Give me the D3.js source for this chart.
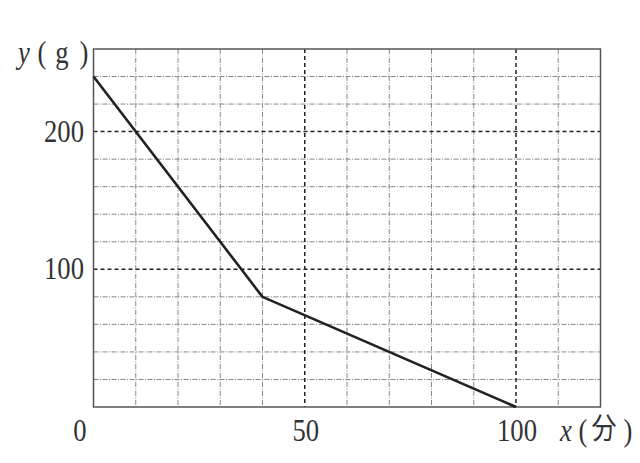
<!DOCTYPE html>
<html><head><meta charset="utf-8">
<script src="https://cdn.jsdelivr.net/npm/d3@7"></script>
<style>body{margin:0;background:#fff}</style>
</head><body>
<svg id="c" width="640" height="463"></svg>
<script>
const xs = [0, 40, 100];
const ys = [240, 80, 0];
const xTicks = [0, 50, 100];
const yTicks = [100, 200];
const xDomain = [0, 120];
const yDomain = [0, 260];
const xGridStep = 10;
const yGridStep = 20;
const xLabel = "x";
const xUnit = ["(", "分", ")"];
const yLabel = "y";
const yUnit = ["(", "g", ")"];

const svg = d3.select("#c");
const x = d3.scaleLinear().domain(xDomain).range([93.5, 600.5]);
const y = d3.scaleLinear().domain(yDomain).range([407, 49]);

const xg = d3.range(xDomain[0] + xGridStep, xDomain[1], xGridStep);
const yg = d3.range(yDomain[0] + yGridStep, yDomain[1], yGridStep);
const serif = "'Liberation Serif','DejaVu Serif',serif";
const FS = 31, SX = 0.86;

// minor grid
svg.append("g").selectAll("line").data(xg.filter(v => !xTicks.includes(v))).join("line")
  .attr("x1", d => x(d)).attr("x2", d => x(d)).attr("y1", y(yDomain[1])).attr("y2", y(0))
  .attr("stroke", "#888").attr("stroke-width", 1).attr("stroke-dasharray", "5,1.5,1,1.5");
svg.append("g").selectAll("line").data(yg.filter(v => !yTicks.includes(v))).join("line")
  .attr("y1", d => y(d)).attr("y2", d => y(d)).attr("x1", x(0)).attr("x2", x(xDomain[1]))
  .attr("stroke", "#888").attr("stroke-width", 1).attr("stroke-dasharray", "5,1.5,1,1.5");
// major grid
svg.append("g").selectAll("line").data(xTicks.filter(v => v > 0)).join("line")
  .attr("x1", d => x(d)).attr("x2", d => x(d)).attr("y1", y(yDomain[1])).attr("y2", y(0))
  .attr("stroke", "#222").attr("stroke-width", 1.5).attr("stroke-dasharray", "4,3");
svg.append("g").selectAll("line").data(yTicks).join("line")
  .attr("y1", d => y(d)).attr("y2", d => y(d)).attr("x1", x(0)).attr("x2", x(xDomain[1]))
  .attr("stroke", "#222").attr("stroke-width", 1.5).attr("stroke-dasharray", "4,3");
// border
svg.append("rect").attr("x", x(0)).attr("y", y(yDomain[1]))
  .attr("width", x(xDomain[1]) - x(0)).attr("height", y(0) - y(yDomain[1]))
  .attr("fill", "none").attr("stroke", "#555").attr("stroke-width", 1.5);

// line
svg.append("path").datum(xs.map((v, i) => [v, ys[i]]))
  .attr("d", d3.line().x(d => x(d[0])).y(d => y(d[1])))
  .attr("fill", "none").attr("stroke", "#222").attr("stroke-width", 2.6).attr("stroke-linejoin", "round");

function txt(px, py, s, anchor, opts = {}) {
  return svg.append("text")
    .attr("transform", `translate(${px},${py}) scale(${SX},1)`)
    .attr("text-anchor", anchor).attr("font-family", opts.family || serif)
    .attr("font-size", opts.size || FS).attr("font-style", opts.style || "normal")
    .attr("fill", "#333").text(s);
}

// tick labels
xTicks.forEach(d => txt(d === 0 ? 80 : x(d) + 1, 441, d, "middle"));
yTicks.forEach(d => txt(84, y(d) + 10, d, "end"));

// axis labels
txt(24, 63, yLabel, "middle", {style: "italic"});
txt(42, 63, yUnit[0], "middle");
txt(62, 63, yUnit[1], "middle");
txt(84, 63, yUnit[2], "middle");
txt(566, 441, xLabel, "middle", {style: "italic"});
txt(583, 441, xUnit[0], "middle");
txt(604, 439, xUnit[1], "middle", {family: "'Noto Sans CJK JP','Noto Sans CJK SC',serif", size: 29});
txt(628, 441, xUnit[2], "middle");
</script>
</body></html>
